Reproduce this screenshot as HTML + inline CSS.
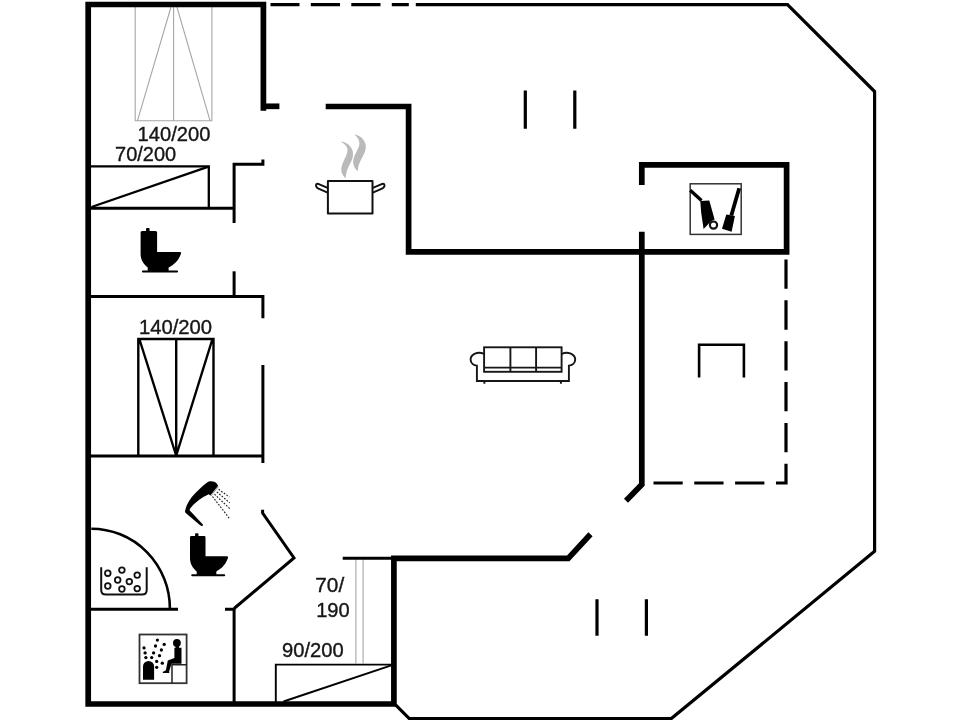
<!DOCTYPE html>
<html><head><meta charset="utf-8"><title>Floor plan</title>
<style>
html,body{margin:0;padding:0;background:#fff;}
body{width:960px;height:720px;overflow:hidden;}
svg{display:block;}
text{font-family:"Liberation Sans",sans-serif;fill:#161616;font-size:19.3px;}
</style></head>
<body>
<svg width="960" height="720" viewBox="0 0 960 720">
<rect width="960" height="720" fill="#fff"/>

<!-- ===== beds (light grey) ===== -->
<g fill="none" stroke="#a6a6a6" stroke-width="1.1">
  <path d="M135.2,7 V120.7 H211.9 V7 M173.6,7 V120.7 M171,7 L137.5,120.7 M176.9,7 L210,120.7"/>
  <path d="M355.9,559 V663.5 M363.1,559 V663.5"/>
</g>

<!-- ===== thick walls ===== -->
<g fill="none" stroke="#000" stroke-width="5.7" stroke-linejoin="miter" stroke-linecap="butt">
  <path d="M263.4,110.8 V4.5 H88.2 V704 H393.9 V558.4 H568.2 L590.5,534.2"/>
  <path d="M263.4,106.3 H279.4"/>
  <path d="M325.7,106.5 H408.6 V251.9 H641.8"/>
  <path d="M641.8,185 V164.8 H786.6 V251.9 H641.8"/>
  <path d="M641.8,231.8 V484.5 L626,500.8"/>
</g>

<!-- ===== thin outer line ===== -->
<g fill="none" stroke="#000" stroke-width="3.2" stroke-linejoin="miter" stroke-linecap="butt">
  <path d="M415.8,4.6 H787.5 L874.6,91.5 V551.3 L671.3,718.6 H409.3 L395.6,704.9"/>
  <path d="M270.5,4.6 H299.5 M310.8,4.6 H340 M351.3,4.6 H380.5 M391.8,4.6 H408.8"/>
  <path d="M786,259.5 V483 H653.5" stroke-dasharray="29.3 11.55"/>
  <path d="M525.3,90.5 V128.8 M574.8,90.5 V128.8 M597,599.3 V635.8 M646.4,599.3 V635.8"/>
</g>

<!-- ===== thin interior walls ===== -->
<g fill="none" stroke="#000" stroke-width="3" stroke-linejoin="miter" stroke-linecap="butt">
  <path d="M234.1,223 V164.2 H262.9 V159.4"/>
  <path d="M91,208.2 H234.1"/>
  <path d="M234.1,271.3 V296.5"/>
  <path d="M91,296.5 H262.9 V318.3"/>
  <path d="M262.9,365 V463"/>
  <path d="M91,456 H262.9"/>
  <path d="M91,609.3 H178"/>
  <path d="M225,609.3 H234.1 V702"/>
  <path d="M262.6,509.8 V513 L294,558 L234.1,608.5"/>
  <path d="M342.7,558.2 H392"/>
</g>

<!-- ===== wardrobes / dark bed ===== -->
<g fill="none" stroke="#000" stroke-width="2.3" stroke-linejoin="miter">
  <path d="M91,166.4 H208.8 V207"/>
  <path d="M91.5,207 L207.8,166.8"/>
  <path d="M275.8,702 V664.6 H391.5" stroke-width="1.9"/>
  <path d="M283.5,701.5 L391.3,665.4" stroke-width="1.9"/>
  <path d="M138.3,455 V339 H213.5 V455 M176.2,339 V455 M139.5,339.5 L176,455 M212.3,339.5 L176.4,455" stroke-width="2.4"/>
</g>

<!-- ===== texts ===== -->
<g id="texts" style="filter:grayscale(1)" stroke="#161616" stroke-width="0.35">
  <text x="137.6" y="140.5" textLength="72.8" lengthAdjust="spacingAndGlyphs">140/200</text>
  <text x="115" y="161.4" textLength="61.2" lengthAdjust="spacingAndGlyphs">70/200</text>
  <text x="138.9" y="333.5" textLength="73.2" lengthAdjust="spacingAndGlyphs">140/200</text>
  <text x="315.3" y="592.1" textLength="28.9" lengthAdjust="spacingAndGlyphs">70/</text>
  <text x="316.2" y="616.6" textLength="33.5" lengthAdjust="spacingAndGlyphs">190</text>
  <text x="282" y="657.4" textLength="61.7" lengthAdjust="spacingAndGlyphs">90/200</text>
</g>

<!-- ===== toilets ===== -->
<path transform="translate(140.6,228.1)" fill="#000" d="M0,4.4 Q0,2.9 1.4,2.9 H5.4 V0.9 Q5.4,0 6.4,0 H8 Q9,0 9,0.9 V2.9 H15.1 Q16.5,2.9 16.5,4.4 V23.8 H39.4 Q40.9,23.8 40.4,25.4 C38.4,31.9 33.4,36.9 28,39.4 V42.3 H36.4 Q37.5,42.3 37.5,43.4 Q37.5,44.4 36.4,44.4 H2.4 Q1.3,44.4 1.3,43.4 Q1.3,42.3 2.4,42.3 H7.1 V39.4 C2.4,35.9 0,30.9 0,25.9 Z"/>
<path transform="translate(190,533.2) scale(0.94,0.97)" fill="#000" d="M0,4.4 Q0,2.9 1.4,2.9 H5.4 V0.9 Q5.4,0 6.4,0 H8 Q9,0 9,0.9 V2.9 H15.1 Q16.5,2.9 16.5,4.4 V23.8 H39.4 Q40.9,23.8 40.4,25.4 C38.4,31.9 33.4,36.9 28,39.4 V42.3 H36.4 Q37.5,42.3 37.5,43.4 Q37.5,44.4 36.4,44.4 H2.4 Q1.3,44.4 1.3,43.4 Q1.3,42.3 2.4,42.3 H7.1 V39.4 C2.4,35.9 0,30.9 0,25.9 Z"/>

<!-- ===== shower ===== -->
<g>
  <path d="M207.1,482.5 Q208.8,481.4 210.2,481.3 Q213.5,481.2 215.7,482.6 Q217.3,483.8 218.1,485.8 L210.3,495.5 L208.7,494.2 Q203,496.8 199.3,499.7 Q196,502.3 193.9,504.3 Q191.5,506.7 190.4,508.2 Q189.4,509.5 189.8,510.4 L202.9,524.4 Q203.2,526.4 201.6,526 L200.1,525.3 L186,513.3 Q184.6,512 185.2,510.5 Q185.9,507.5 186.9,505.1 Q188.8,501 191.6,497.3 Q195,493 199.3,489.2 Q203,485.5 207.1,482.5 Z" fill="#000"/>
  <path d="M218.4,486.6 L210.8,496" stroke="#888" stroke-width="1" fill="none"/>
  <g stroke="#222" stroke-width="1.15" stroke-dasharray="1.7 1.5" fill="none">
    <path d="M218.6,489.3 L229.3,497"/>
    <path d="M216.8,491.9 L229.7,502.8"/>
    <path d="M214.5,494.2 L229.7,508.6"/>
    <path d="M212.5,496.5 L229.3,518.3"/>
  </g>
</g>

<!-- ===== pot ===== -->
<g fill="none" stroke="#111" stroke-width="2" stroke-linejoin="round">
  <rect x="327.9" y="181" width="44.6" height="32.4"/>
  <path d="M327.6,187.9 L318.2,183.9 Q315.6,183.4 316.1,186 Q316.5,187.6 318,188.4 L327.6,192.6"/>
  <path d="M372.8,187.9 L382.3,183.9 Q384.9,183.4 384.4,186 Q384,187.6 382.5,188.4 L372.8,192.6"/>
</g>
<g fill="#bababa" stroke="none">
  <path d="M345,177.8 C341.5,174 340.5,170 341.8,166 C343.5,160 347.5,155 347.5,150 C347.5,146.5 344.5,143.8 340.6,141.5 C345.5,142 350.5,145 352.3,150 C354,155 352.5,159.5 350,164 C347.5,168.5 345.8,172.5 345.8,177.8 Z"/>
  <path d="M357,170.8 C353.5,167 352.5,163 353.5,159 C355,153 359.4,148 359.4,143.5 C359.4,140 357.5,137 354.4,134.4 C359.5,135 363.5,138.5 365.2,143 C366.8,148 365,152.5 362.5,157 C360,161.5 358,165.5 357.8,170.8 Z"/>
</g>

<!-- ===== sofa ===== -->
<g fill="none" stroke="#161616" stroke-width="1.9" stroke-linejoin="miter">
  <rect x="484.1" y="347.3" width="77.5" height="24.5"/>
  <path d="M510.4,347.3 V371.8 M536.1,347.3 V371.8 M484.1,367.6 H561.6"/>
  <path d="M484.1,354 C481.5,352.6 477.8,352.4 475,353.6 C472.2,354.9 470.6,357 470.6,359.4 C470.6,363 473.5,365.6 476.9,365.6 V381 H568.9 V365.6 C572.3,365.6 575.2,363 575.2,359.4 C575.2,357 573.6,354.9 570.8,353.6 C568,352.4 564.3,352.6 561.7,354"/>
  <path d="M484.4,381 V383.8 M560.9,381 V383.8"/>
</g>

<!-- ===== storage icon ===== -->
<g>
  <rect x="690.2" y="183.8" width="51" height="50.6" fill="#fff" stroke="#333" stroke-width="1.5"/>
  <path d="M690.2,190.3 L701.5,200.6" stroke="#000" stroke-width="3.4" fill="none"/>
  <path d="M700.3,201 L709.3,200.4 L714.6,219.4 L711,221.3 L703.6,229 L701.2,212.8 Z" fill="#000"/>
  <circle cx="713.5" cy="225.1" r="3.6" fill="none" stroke="#111" stroke-width="2.2"/>
  <path d="M739.2,188.3 L731.3,215.5" stroke="#000" stroke-width="3.8" fill="none"/>
  <path d="M726.3,214.6 L734.9,216.1 L731.6,231.8 L722,228.8 Z" fill="#000"/>
</g>

<!-- ===== spa ===== -->
<g fill="none" stroke="#000">
  <path d="M91.3,528.7 A78.6,79.8 0 0 1 169.9,608.5" stroke-width="2.6"/>
  <path d="M101.2,567.2 V590 Q101.2,594.5 105.8,594.5 H142.1 Q146.7,594.5 146.7,590 V567.2" stroke-width="2" stroke="#111"/>
  <g stroke-width="1.8" stroke="#111">
    <circle cx="107.8" cy="573.2" r="2.8"/><circle cx="121.9" cy="570.1" r="2.8"/><circle cx="137.2" cy="575.1" r="2.8"/>
    <circle cx="117.7" cy="580" r="2.8"/><circle cx="129.3" cy="581.6" r="2.8"/>
    <circle cx="107.8" cy="586" r="2.8"/><circle cx="121.9" cy="589" r="2.8"/><circle cx="137.2" cy="588.6" r="2.8"/>
  </g>
</g>

<!-- ===== sauna icon ===== -->
<g>
  <rect x="139.5" y="634.5" width="47.1" height="48.7" fill="#fff" stroke="#333" stroke-width="1.8"/>
  <path d="M143,679.8 V666.4 A5.55,5.5 0 0 1 154.1,666.4 V679.8 Z" fill="#000"/>
  <path d="M172,683 V664.7 H186.6" fill="none" stroke="#222" stroke-width="1.5"/>
  <circle cx="176.9" cy="642.9" r="3.9" fill="#000"/>
  <path d="M175.6,645 H179 V647.7 H181.5 V663.7 H171.5 L169.2,671.3 V673 H163 L162.6,672 L165.9,670.3 L167.8,660.4 L174.4,658 V647.7 H175.6 Z" fill="#000"/>
  <g fill="#000">
    <circle cx="157.4" cy="640.1" r="1.65"/><circle cx="164.2" cy="644.4" r="1.65"/><circle cx="155.5" cy="646" r="1.65"/>
    <circle cx="144" cy="647.9" r="1.65"/><circle cx="161.4" cy="650" r="1.65"/><circle cx="145.1" cy="652.9" r="1.65"/>
    <circle cx="153.6" cy="652.9" r="1.65"/><circle cx="159.5" cy="655.7" r="1.65"/><circle cx="145.9" cy="657.6" r="1.65"/>
    <circle cx="151.7" cy="657.6" r="1.65"/><circle cx="156.7" cy="661.4" r="1.65"/><circle cx="162.3" cy="663.2" r="1.65"/>
    <circle cx="156.7" cy="667.3" r="1.65"/>
  </g>
</g>

<!-- ===== terrace table ===== -->
<path d="M699.1,377.6 V344.8 H743.9 V377.6" fill="none" stroke="#000" stroke-width="2.6"/>

</svg>
</body></html>
